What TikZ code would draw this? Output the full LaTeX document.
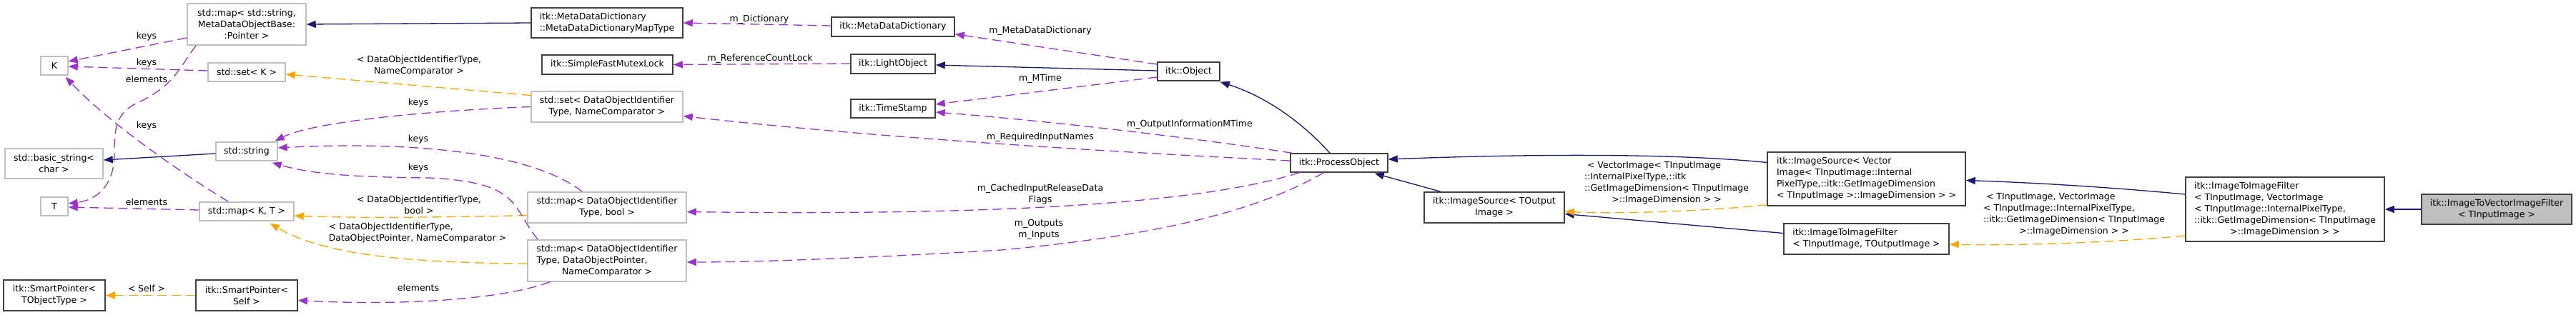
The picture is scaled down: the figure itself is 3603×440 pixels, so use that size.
\documentclass[tikz,border=0pt]{standalone}
\usepackage{fontspec}
\setmainfont{DejaVu Sans}
\usetikzlibrary{arrows.meta,calc}
\definecolor{eblue}{HTML}{191970}
\definecolor{epurple}{HTML}{9A32CD}
\definecolor{eorange}{HTML}{FFA500}
\definecolor{gborder}{HTML}{BFBFBF}
\definecolor{bborder}{HTML}{404040}
\definecolor{mainfill}{HTML}{BFBFBF}
\newcommand{\ml}[2]{\begin{tabular}{@{}l@{}}#1\\\multicolumn{1}{@{}c@{}}{#2}\end{tabular}}
\begin{document}
\begin{tikzpicture}[x=1pt,y=-1pt,
  cls/.style={draw=bborder, line width=1.5pt, fill=white, inner sep=0pt, align=center,
    font=\fontsize{12.5}{16}\selectfont, text=black},
  ext/.style={cls, draw=gborder},
  mainbox/.style={cls, fill=mainfill},
  tip/.style={-{Triangle[length=13pt,width=10pt]}},
  inh/.style={draw=eblue, line width=1.3pt, tip},
  use/.style={draw=epurple, line width=1.3pt, dash pattern=on 13pt off 7pt, tip},
  tmpl/.style={draw=eorange, line width=1.3pt, dash pattern=on 13pt off 7pt, tip},
  lbl/.style={inner sep=0pt, align=center, font=\fontsize{12.5}{16}\selectfont, text=black}]
\useasboundingbox (0,0) rectangle (3603,440);

% ---- nodes ----
\node[ext, minimum width=166, minimum height=58] (mapSS) at (345,34) {std::map< std::string,\\MetaDataObjectBase:\\:Pointer >};
\node[ext, minimum width=38, minimum height=26] (K) at (76,92) {K};
\node[ext, minimum width=108, minimum height=26] (setK) at (345,101) {std::set< K >};
\node[ext, minimum width=137, minimum height=42] (basicstr) at (75.5,229) {std::basic\_string<\\char >};
\node[ext, minimum width=86, minimum height=26] (stdstr) at (345,212) {std::string};
\node[ext, minimum width=38, minimum height=26] (T) at (76,289) {T};
\node[ext, minimum width=132, minimum height=26] (mapKT) at (345,296) {std::map< K, T >};
\node[cls, minimum width=142, minimum height=43] (spTO) at (76,413.5) {itk::SmartPointer<\\TObjectType >};
\node[cls, minimum width=142, minimum height=43] (spSelf) at (345,413.5) {itk::SmartPointer<\\Self >};
\node[cls, minimum width=212, minimum height=42] (mdmap) at (849,32) {\ml{itk::MetaDataDictionary}{::MetaDataDictionaryMapType}};
\node[cls, minimum width=183, minimum height=27] (mutex) at (849.5,90.5) {itk::SimpleFastMutexLock};
\node[ext, minimum width=212, minimum height=43] (setDOI) at (849,149.5) {std::set< DataObjectIdentifier\\Type, NameComparator >};
\node[ext, minimum width=222, minimum height=43] (mapDOIbool) at (849,290.5) {std::map< DataObjectIdentifier\\Type, bool >};
\node[ext, minimum width=222, minimum height=58] (mapDOIptr) at (849,365) {\ml{std::map< DataObjectIdentifier\\Type, DataObjectPointer,}{NameComparator >}};
\node[cls, minimum width=172, minimum height=27] (mdd) at (1249,37.5) {itk::MetaDataDictionary};
\node[cls, minimum width=118, minimum height=27] (light) at (1249,89.5) {itk::LightObject};
\node[cls, minimum width=118, minimum height=26] (ts) at (1249,152) {itk::TimeStamp};
\node[cls, minimum width=87, minimum height=26] (obj) at (1662.5,100) {itk::Object};
\node[cls, minimum width=136, minimum height=26] (proc) at (1873,228) {itk::ProcessObject};
\node[cls, minimum width=196, minimum height=43] (isrcT) at (2090,290.5) {itk::ImageSource< TOutput\\Image >};
\node[cls, minimum width=277, minimum height=75] (isrcV) at (2610.5,250.5) {\ml{itk::ImageSource< Vector\\Image< TInputImage::Internal\\PixelType,::itk::GetImageDimension}{< TInputImage >::ImageDimension > >}};
\node[cls, minimum width=231, minimum height=43] (itifT) at (2610.5,334.5) {\ml{itk::ImageToImageFilter}{< TInputImage, TOutputImage >}};
\node[cls, minimum width=278, minimum height=90] (itifV) at (3196,293) {\ml{itk::ImageToImageFilter\\< TInputImage, VectorImage\\< TInputImage::InternalPixelType,\\::itk::GetImageDimension< TInputImage}{>::ImageDimension > >}};
\node[mainbox, minimum width=210, minimum height=42] (main) at (3492,293) {itk::ImageToVectorImageFilter\\< TInputImage >};

% ---- inheritance (blue) ----
\draw[inh] (mdmap.west) -- (mapSS.east);
\draw[inh] ($(stdstr.west)+(0,3)$) -- ($(basicstr.east)+(0,-5)$);
\draw[inh] ($(obj.west)+(0,-1)$) -- ($(light.east)+(0,1.5)$);
\draw[inh] ($(proc.north)+(-13,0)$) .. controls (1820,170) and (1770,135) .. ($(obj.south east)+(0,1)$);
\draw[inh] ($(isrcT.north)+(-75,0)$) -- ($(proc.south east)+(-19,1)$);
\draw[inh] ($(isrcV.west)+(0,-23)$) .. controls (2350,215) and (2150,215) .. ($(proc.east)+(0,-5)$);
\draw[inh] ($(itifT.west)+(0,-8)$) -- ($(isrcT.east)+(0,9)$);
\draw[inh] ($(itifV.west)+(0,-21)$) .. controls (2950,262) and (2850,256) .. ($(isrcV.east)+(0,2)$);
\draw[inh] (main.west) -- (itifV.east);

% ---- template (orange) ----
\draw[tmpl] ($(setDOI.west)+(0,-16)$) -- ($(setK.east)+(0,3)$);
\node[lbl] (l_setK) at (586,92) {< DataObjectIdentifierType,\\NameComparator >};
\draw[tmpl] ($(mapDOIbool.west)+(0,11)$) .. controls (600,305) and (480,305) .. ($(mapKT.east)+(0,6)$);
\node[lbl] (l_mapb) at (586,287) {< DataObjectIdentifierType,\\bool >};
\draw[tmpl] ($(mapDOIptr.west)+(0,4)$) .. controls (560,368) and (450,355) .. ($(mapKT.south east)+(-34,3)$);
\node[lbl] (l_mapp) at (584,326) {\ml{< DataObjectIdentifierType,}{DataObjectPointer, NameComparator >}};
\draw[tmpl] (spSelf.west) -- (spTO.east);
\node[lbl] (l_self) at (205,404) {< Self >};
\draw[tmpl] ($(isrcV.south west)+(0,-2)$) .. controls (2380,296) and (2260,300) .. ($(isrcT.east)+(0,5.5)$);
\node[lbl] (l_vec) at (2331,256) {\ml{\ < VectorImage< TInputImage\\::InternalPixelType,::itk\\::GetImageDimension< TInputImage}{>::ImageDimension > >}};
\draw[tmpl] ($(itifV.west)+(0,37)$) .. controls (2950,340) and (2820,344) .. ($(itifT.east)+(0,7.5)$);
\node[lbl] (l_tin) at (2901,300) {\ml{\ < TInputImage, VectorImage\\< TInputImage::InternalPixelType,\\::itk::GetImageDimension< TInputImage}{>::ImageDimension > >}};

% ---- usage (purple) ----
\draw[use] ($(mapSS.west)+(0,19)$) -- ($(K.east)+(0,-6)$);
\node[lbl] (l_k1) at (205,51) {keys};
\draw[use] ($(mapSS.south west)+(13,0)$) .. controls (250,95) and (245,120) .. (190,145) .. controls (160,160) and (160,185) .. (160,215) .. controls (160,260) and (135,280) .. ($(T.east)+(0,-4)$);
\node[lbl] (l_e1) at (205,111) {elements};
\draw[use] ($(setK.west)+(0,-2)$) -- ($(K.east)+(0,1)$);
\node[lbl] (l_k2) at (205,88) {keys};
\draw[use] ($(mapKT.north west)+(41,0)$) .. controls (250,240) and (150,170) .. ($(K.south east)+(-4,2)$);
\node[lbl] (l_k3) at (205,176) {keys};
\draw[use] ($(mapKT.west)+(0,-2)$) -- ($(T.east)+(0,1)$);
\node[lbl] (l_e2) at (205,283) {elements};
\draw[use] (setDOI.west) .. controls (600,155) and (440,170) .. ($(stdstr.north east)+(-4,-1)$);
\node[lbl] (l_k4) at (585,144) {keys};
\draw[use] ($(mapDOIbool.north west)+(77,0)$) .. controls (740,210) and (560,198) .. ($(stdstr.east)+(0,-5)$);
\node[lbl] (l_k5) at (585,195) {keys};
\draw[use] ($(mapDOIptr.north west)+(15,0)$) .. controls (715,290) and (730,255) .. (600,249) .. controls (480,248) and (430,242) .. ($(stdstr.south east)+(-8,2)$);
\node[lbl] (l_k6) at (585,235) {keys};
\draw[use] ($(mapDOIptr.south west)+(32,0)$) .. controls (700,420) and (560,428) .. ($(spSelf.east)+(0,7)$);
\node[lbl] (l_e3) at (585,403) {elements};
\draw[use] ($(mdd.west)+(0,-1.5)$) -- (mdmap.east);
\node[lbl] (l_dict) at (1062,27) {m\_Dictionary};
\draw[use] ($(light.west)+(0,-0.5)$) -- (mutex.east);
\node[lbl] (l_rcl) at (1063,82) {m\_ReferenceCountLock};
\draw[use] ($(obj.west)+(0,-10)$) -- ($(mdd.south east)+(0,-4)$);
\node[lbl] (l_mdd) at (1455,43) {m\_MetaDataDictionary};
\draw[use] ($(obj.west)+(0,8)$) -- ($(ts.east)+(0,-6)$);
\node[lbl] (l_mt) at (1455,110) {m\_MTime};
\draw[use] ($(proc.north west)+(3,0)$) .. controls (1650,190) and (1450,168) .. ($(ts.east)+(0,5)$);
\node[lbl] (l_oim) at (1664,174) {m\_OutputInformationMTime};
\draw[use] ($(proc.west)+(0,-3)$) .. controls (1500,210) and (1200,190) .. ($(setDOI.east)+(0,13)$);
\node[lbl] (l_rin) at (1455,192) {m\_RequiredInputNames};
\draw[use] ($(proc.south west)+(13,0)$) .. controls (1680,285) and (1400,302) .. ($(mapDOIbool.east)+(0,6)$);
\node[lbl] (l_cir) at (1455,272) {m\_CachedInputReleaseData\\Flags};
\draw[use] ($(proc.south west)+(47,0)$) .. controls (1760,295) and (1620,330) .. (1400,350) .. controls (1200,362) and (1050,367) .. ($(mapDOIptr.east)+(0,2)$);
\node[lbl] (l_io) at (1453,321) {m\_Outputs\\m\_Inputs};
\end{tikzpicture}
\end{document}
